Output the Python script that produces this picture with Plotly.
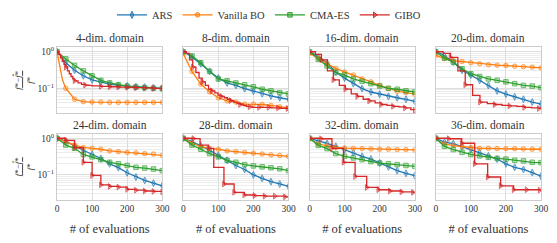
import plotly.graph_objects as go
from plotly.subplots import make_subplots

# ---------------- data ----------------
EVALS = [0, 5, 10, 15, 20, 25, 50, 75, 100, 125, 150, 175, 200, 225, 250, 275, 300]
DIMS = [4, 8, 16, 20, 24, 28, 32, 36]
METHODS = ["ARS", "Vanilla BO", "CMA-ES", "GIBO"]

ars_4 = [1.0, 0.9, 0.78, 0.66, 0.57, 0.5, 0.31, 0.22, 0.17, 0.148, 0.13, 0.12, 0.115, 0.11, 0.107, 0.104, 0.1]
bo_4 = [1.0, 0.55, 0.3, 0.18, 0.13, 0.1, 0.05, 0.043, 0.042, 0.042, 0.041, 0.041, 0.041, 0.041, 0.041, 0.041, 0.041]
cma_4 = [1.0, 0.93, 0.85, 0.77, 0.7, 0.64, 0.42, 0.3, 0.22, 0.165, 0.14, 0.125, 0.115, 0.108, 0.104, 0.1, 0.098]
gibo_x_4 = [0, 5, 10, 15, 20, 25, 30, 35, 40, 45, 50, 60, 70, 80, 90, 100, 125, 150, 175, 200, 225, 250, 275, 300]
gibo_4 = [1.0, 0.85, 0.68, 0.55, 0.45, 0.38, 0.3, 0.25, 0.21, 0.18, 0.16, 0.14, 0.128, 0.122, 0.12, 0.117, 0.113, 0.11, 0.108, 0.106, 0.104, 0.102, 0.1, 0.1]

ars_8 = [1.0, 0.95, 0.89, 0.83, 0.77, 0.71, 0.47, 0.29, 0.19, 0.14, 0.12, 0.098, 0.083, 0.071, 0.062, 0.055, 0.05]
bo_8 = [0.9, 0.7, 0.55, 0.45, 0.36, 0.29, 0.13, 0.08, 0.055, 0.045, 0.042, 0.037, 0.037, 0.036, 0.034, 0.031, 0.029]
cma_8 = [1.0, 0.96, 0.91, 0.86, 0.8, 0.76, 0.5, 0.29, 0.18, 0.16, 0.14, 0.125, 0.11, 0.094, 0.085, 0.076, 0.07]
gibo_x_8 = [0, 9, 18, 27, 36, 45, 54, 63, 72, 81, 90, 99, 108, 117, 126, 135, 144, 153, 162, 171, 180, 189, 198, 207, 216, 225, 234, 243, 252, 261, 270, 279, 288, 297, 300]
gibo_8 = [1.0, 0.9, 0.6, 0.38, 0.27, 0.19, 0.15, 0.12, 0.095, 0.085, 0.075, 0.065, 0.06, 0.055, 0.05, 0.046, 0.042, 0.038, 0.036, 0.034, 0.032, 0.031, 0.03, 0.03, 0.03, 0.03, 0.03, 0.03, 0.029, 0.029, 0.029, 0.028, 0.028, 0.028, 0.028]

ars_16 = [1.0, 0.96, 0.9, 0.83, 0.76, 0.71, 0.5, 0.28, 0.19, 0.134, 0.098, 0.079, 0.069, 0.06, 0.055, 0.05, 0.044]
bo_16 = [0.9, 0.85, 0.8, 0.75, 0.7, 0.67, 0.47, 0.35, 0.28, 0.23, 0.18, 0.15, 0.12, 0.098, 0.083, 0.076, 0.069]
cma_16 = [1.0, 0.93, 0.86, 0.78, 0.7, 0.62, 0.41, 0.27, 0.23, 0.18, 0.155, 0.134, 0.115, 0.1, 0.094, 0.085, 0.079]
gibo_x_16 = [0, 17, 34, 51, 68, 85, 102, 119, 136, 153, 170, 187, 204, 221, 238, 255, 272, 289, 300]
gibo_16 = [1.0, 0.85, 0.6, 0.3, 0.17, 0.12, 0.095, 0.07, 0.06, 0.05, 0.045, 0.04, 0.036, 0.034, 0.032, 0.031, 0.029, 0.026, 0.025]

ars_20 = [1.0, 0.97, 0.93, 0.88, 0.83, 0.76, 0.52, 0.31, 0.23, 0.165, 0.12, 0.085, 0.069, 0.058, 0.05, 0.042, 0.037]
bo_20 = [0.8, 0.77, 0.74, 0.71, 0.68, 0.65, 0.57, 0.54, 0.5, 0.47, 0.44, 0.43, 0.42, 0.4, 0.39, 0.38, 0.36]
cma_20 = [1.0, 0.93, 0.86, 0.8, 0.73, 0.67, 0.52, 0.34, 0.25, 0.21, 0.18, 0.165, 0.15, 0.134, 0.12, 0.115, 0.104]
gibo_x_20 = [0, 21, 42, 63, 84, 105, 126, 147, 168, 189, 210, 231, 252, 273, 294, 300]
gibo_20 = [1.0, 0.9, 0.7, 0.3, 0.125, 0.064, 0.042, 0.038, 0.036, 0.034, 0.033, 0.032, 0.03, 0.029, 0.028, 0.028]

ars_24 = [1.0, 0.98, 0.95, 0.9, 0.86, 0.81, 0.63, 0.47, 0.36, 0.28, 0.2, 0.157, 0.114, 0.087, 0.07, 0.059, 0.05]
bo_24 = [1.0, 0.95, 0.9, 0.86, 0.83, 0.8, 0.65, 0.56, 0.53, 0.5, 0.45, 0.43, 0.41, 0.4, 0.38, 0.37, 0.34]
cma_24 = [1.0, 0.93, 0.86, 0.79, 0.72, 0.65, 0.53, 0.36, 0.31, 0.26, 0.22, 0.2, 0.18, 0.16, 0.153, 0.144, 0.13]
gibo_x_24 = [0, 25, 50, 75, 100, 125, 150, 175, 200, 225, 250, 275, 300]
gibo_24 = [1.0, 0.88, 0.55, 0.22, 0.096, 0.053, 0.048, 0.046, 0.04, 0.038, 0.036, 0.035, 0.034]

ars_28 = [1.0, 0.97, 0.93, 0.89, 0.85, 0.81, 0.63, 0.47, 0.34, 0.25, 0.18, 0.14, 0.1, 0.08, 0.065, 0.056, 0.048]
bo_28 = [1.0, 0.95, 0.9, 0.85, 0.8, 0.73, 0.59, 0.53, 0.5, 0.45, 0.43, 0.41, 0.39, 0.37, 0.35, 0.34, 0.32]
cma_28 = [1.0, 0.92, 0.84, 0.77, 0.7, 0.65, 0.5, 0.38, 0.31, 0.25, 0.22, 0.19, 0.175, 0.165, 0.156, 0.146, 0.13]
gibo_x_28 = [0, 29, 48, 72, 87, 116, 145, 174, 203, 232, 261, 290, 300]
gibo_28 = [1.0, 0.98, 0.65, 0.53, 0.16, 0.056, 0.033, 0.028, 0.027, 0.026, 0.026, 0.025, 0.025]

ars_32 = [1.0, 0.97, 0.94, 0.9, 0.86, 0.82, 0.72, 0.6, 0.48, 0.4, 0.32, 0.27, 0.21, 0.165, 0.13, 0.11, 0.095]
bo_32 = [1.0, 0.93, 0.86, 0.8, 0.74, 0.7, 0.62, 0.56, 0.54, 0.53, 0.52, 0.51, 0.5, 0.5, 0.49, 0.49, 0.48]
cma_32 = [1.0, 0.92, 0.84, 0.76, 0.7, 0.64, 0.52, 0.38, 0.32, 0.29, 0.26, 0.23, 0.21, 0.2, 0.19, 0.18, 0.17]
gibo_x_32 = [0, 33, 64, 97, 130, 163, 196, 229, 262, 295, 300]
gibo_32 = [1.0, 0.97, 0.53, 0.22, 0.09, 0.045, 0.039, 0.036, 0.034, 0.033, 0.033]

ars_36 = [1.0, 0.95, 0.9, 0.85, 0.8, 0.78, 0.71, 0.59, 0.5, 0.4, 0.33, 0.27, 0.2, 0.16, 0.14, 0.115, 0.092]
bo_36 = [1.0, 0.9, 0.82, 0.77, 0.73, 0.7, 0.63, 0.59, 0.56, 0.53, 0.53, 0.52, 0.52, 0.52, 0.51, 0.5, 0.5]
cma_36 = [1.0, 0.9, 0.8, 0.72, 0.66, 0.6, 0.49, 0.41, 0.36, 0.33, 0.3, 0.28, 0.27, 0.25, 0.24, 0.22, 0.215]
gibo_x_36 = [0, 37, 74, 111, 148, 185, 222, 259, 296, 300]
gibo_36 = [1.0, 0.97, 0.73, 0.2, 0.087, 0.05, 0.039, 0.039, 0.038, 0.038]

Y_TICKS = [1, 0.1]
Y_TICK_TEXT = ["10<sup>0</sup>", "10<sup>\u22121</sup>"]
X_TICKS = [0, 100, 200, 300]

# ---------------- figure ----------------
PANELS = [
    (ars_4, bo_4, cma_4, gibo_x_4, gibo_4),
    (ars_8, bo_8, cma_8, gibo_x_8, gibo_8),
    (ars_16, bo_16, cma_16, gibo_x_16, gibo_16),
    (ars_20, bo_20, cma_20, gibo_x_20, gibo_20),
    (ars_24, bo_24, cma_24, gibo_x_24, gibo_24),
    (ars_28, bo_28, cma_28, gibo_x_28, gibo_28),
    (ars_32, bo_32, cma_32, gibo_x_32, gibo_32),
    (ars_36, bo_36, cma_36, gibo_x_36, gibo_36),
]

COLORS = ["#1f77b4", "#ff7f0e", "#2ca02c", "#d62728"]
FILLS = ["rgba(31,119,180,0.45)", "rgba(255,127,14,0.45)", "rgba(44,160,44,0.45)", "rgba(214,39,40,0.45)"]
SYMBOLS = ["diamond-tall", "circle", "square", "triangle-right"]
MSIZE = [5, 4.5, 4.5, 5]
FONT = "Liberation Serif, DejaVu Serif, serif"
TXT = "#333333"

fig = make_subplots(rows=2, cols=4,
                    subplot_titles=[f"{d}-dim. domain" for d in DIMS],
                    horizontal_spacing=0.0434, vertical_spacing=0.131)


def marker_sizes(xs, base, spacing=22):
    sizes, widths = [], []
    last = None
    for x in xs:
        if last is None or x - last >= spacing:
            sizes.append(base)
            widths.append(1)
            last = x
        else:
            sizes.append(0)
            widths.append(0)
    return sizes, widths


for p, (ars, bo, cma, gx, gibo) in enumerate(PANELS):
    r, c = p // 4 + 1, p % 4 + 1
    series = [(EVALS, ars), (EVALS, bo), (EVALS, cma), (gx, gibo)]
    for m, (xs, ys) in enumerate(series):
        if m < 3:
            sizes = [MSIZE[m] if x % 25 == 0 else 0 for x in xs]
            widths = [1 if x % 25 == 0 else 0 for x in xs]
            shape = "linear"
        else:
            sizes, widths = marker_sizes(xs, MSIZE[m])
            shape = "hv"
        fig.add_trace(go.Scatter(
            x=xs, y=ys, mode="lines+markers", name=METHODS[m],
            legendgroup=METHODS[m], showlegend=False,
            line=dict(color=COLORS[m], width=1.3, shape=shape),
            marker=dict(symbol=SYMBOLS[m], size=sizes, color=FILLS[m],
                        line=dict(color=COLORS[m], width=widths)),
        ), row=r, col=c)

    fig.update_xaxes(range=[0, 300], tickvals=X_TICKS, showticklabels=(r == 2),
                     showgrid=True, gridcolor="#dddddd", gridwidth=1,
                     showline=True, mirror=True, linecolor="#cccccc", linewidth=1,
                     zeroline=False, ticks="", tickfont=dict(size=9.5, color=TXT),
                     automargin=False, row=r, col=c)
    if r == 2:
        fig.update_xaxes(title_text="# of evaluations",
                         title_font=dict(size=12.5, color=TXT), title_standoff=10,
                         row=r, col=c)
    fig.update_yaxes(type="log", range=[-1.69, 0.13], tickvals=Y_TICKS, ticktext=Y_TICK_TEXT,
                     showticklabels=(c == 1), showgrid=True, gridcolor="#dddddd", gridwidth=1,
                     minor=dict(tickvals=[0.02, 0.03, 0.04, 0.05, 0.06, 0.07, 0.08, 0.09,
                                          0.2, 0.3, 0.4, 0.5, 0.6, 0.7, 0.8, 0.9],
                                showgrid=True, gridcolor="#ececec", gridwidth=0.6, ticks=""),
                     showline=True, mirror=True, linecolor="#cccccc", linewidth=1,
                     zeroline=False, ticks="", tickfont=dict(size=9.5, color=TXT),
                     automargin=False, row=r, col=c)
    if c == 1:
        fig.update_yaxes(title_text="<u><i>f</i>*\u2212<i>f\u0302</i>*</u><br><i>f</i>*",
                         title_font=dict(size=9, color=TXT), title_standoff=2,
                         row=r, col=c)

# legend-only entries (one per method)
for m in range(4):
    fig.add_trace(go.Scatter(
        x=[None], y=[None], mode="lines+markers", name=METHODS[m],
        legendgroup=METHODS[m],
        line=dict(color=COLORS[m], width=1.3),
        marker=dict(symbol=SYMBOLS[m], size=MSIZE[m], color=FILLS[m],
                    line=dict(color=COLORS[m], width=1)),
        showlegend=True,
    ), row=1, col=1)

for ann in fig.layout.annotations:
    ann.font = dict(family=FONT, size=11.5, color=TXT)
    ann.yshift = 1

# the page places the figure 8px from the top-left corner (default body margin)
fig.update_layout(
    width=557, height=243,
    margin=dict(l=49, r=24, t=39, b=51, autoexpand=False),
    paper_bgcolor="white", plot_bgcolor="white",
    font=dict(family=FONT, size=10, color=TXT),
    showlegend=True,
    legend=dict(orientation="h", traceorder="normal",
                x=0.438, xanchor="center", y=1.21, yanchor="middle",
                font=dict(size=10.5, color=TXT, family=FONT),
                itemwidth=30, bgcolor="rgba(0,0,0,0)"),
)

fig.write_html("out.html")
